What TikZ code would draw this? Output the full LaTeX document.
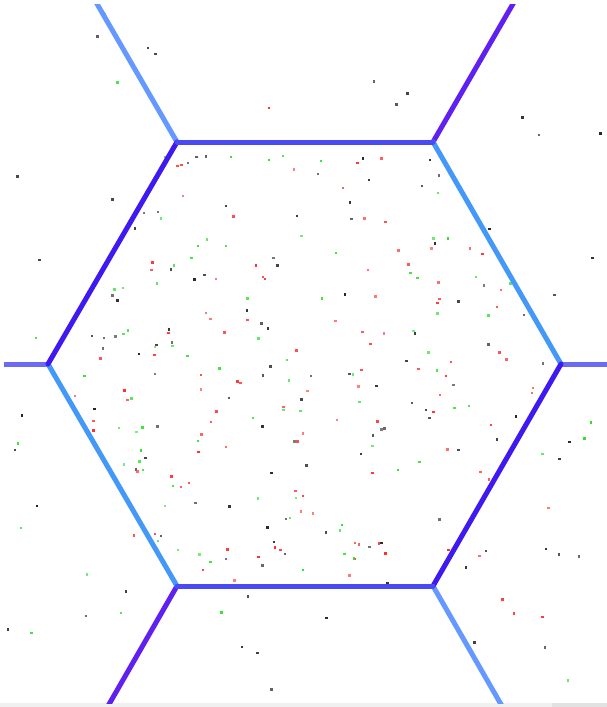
\documentclass[tikz,border=0pt]{standalone}
\usepackage{xcolor}
\definecolor{Sky}{HTML}{4499F8}
\definecolor{Pale}{HTML}{6699FF}
\definecolor{Royal}{HTML}{4A4AF5}
\definecolor{Indigo}{HTML}{4018F0}
\definecolor{Violet}{HTML}{6020F0}
\definecolor{Lilac}{HTML}{6A6AF2}
\definecolor{DotRed}{HTML}{FF3030}
\definecolor{DotGreen}{HTML}{30E030}
\definecolor{DotBlack}{HTML}{262626}
\definecolor{Strip}{HTML}{F0F0F0}
\definecolor{StripDark}{HTML}{E2E2E2}

\begin{document}
\begin{tikzpicture}[x=0.02cm,y=-0.02cm,cell/.style={line width=1mm,line cap=round},speck/.style={fill opacity=#1}]
\useasboundingbox (0,0) rectangle (607,707);
\fill[white] (0,0) rectangle (607,707);
\fill[Strip] (0,703) rectangle (607,707);
\fill[StripDark] (552,703) rectangle (607,707);
\pgfmathsetseed{4242}
\foreach \k in {1,...,360}{
  \pgfmathsetmacro\px{50+510*rnd}
  \pgfmathsetmacro\py{144+440*rnd}
  \pgfmathtruncatemacro\inhex{and(abs(\py-364)<218,1.732*abs(\px-305)+abs(\py-364)<438)}
  \pgfmathtruncatemacro\pick{int(3*rnd)}
  \pgfmathsetmacro\op{0.6+0.4*rnd}
  \ifnum\inhex=1
    \ifcase\pick \def\dc{DotRed}\or \def\dc{DotGreen}\else \def\dc{DotBlack}\fi
    \fill[\dc,speck=\op] (\px,\py) rectangle ++(2.5,2.5);
  \fi
}
\foreach \k in {1,...,110}{
  \pgfmathsetmacro\px{6+598*rnd}
  \pgfmathsetmacro\py{6+694*rnd}
  \pgfmathtruncatemacro\inhex{and(abs(\py-364)<226,1.732*abs(\px-305)+abs(\py-364)<450)}
  \pgfmathtruncatemacro\pick{int(10*rnd)}
  \pgfmathsetmacro\op{0.65+0.35*rnd}
  \ifnum\inhex=0
    \ifcase\pick \def\dc{DotRed}\or \def\dc{DotGreen}\or \def\dc{DotGreen}\or \def\dc{DotGreen}\else \def\dc{DotBlack}\fi
    \fill[\dc,speck=\op] (\px,\py) rectangle ++(2.5,2.5);
  \fi
}
\coordinate (nw) at (177,142);
\coordinate (ne) at (433,142);
\coordinate (e) at (561,364);
\coordinate (se) at (433,586);
\coordinate (sw) at (177,586);
\coordinate (w) at (48,364);
\coordinate (nwout) at (89,-10);
\coordinate (neout) at (521,-10);
\coordinate (eout) at (620,364);
\coordinate (seout) at (510,720);
\coordinate (swout) at (100,720);
\coordinate (wout) at (-10,364);
\begin{scope}
\clip (4,4) rectangle (607,703);
\draw[cell,Pale] (nw) -- (nwout);
\draw[cell,Violet] (ne) -- (neout);
\draw[cell,Lilac] (e) -- (eout);
\draw[cell,Pale] (se) -- (seout);
\draw[cell,Violet] (sw) -- (swout);
\draw[cell,Lilac] (w) -- (wout);
\draw[cell,Sky] (ne) -- (e);
\draw[cell,Sky] (w) -- (sw);
\draw[cell,Indigo] (e) -- (se);
\draw[cell,Indigo] (nw) -- (w);
\draw[cell,Royal] (nw) -- (ne);
\draw[cell,Royal] (sw) -- (se);
\end{scope}
\end{tikzpicture}
\end{document}
